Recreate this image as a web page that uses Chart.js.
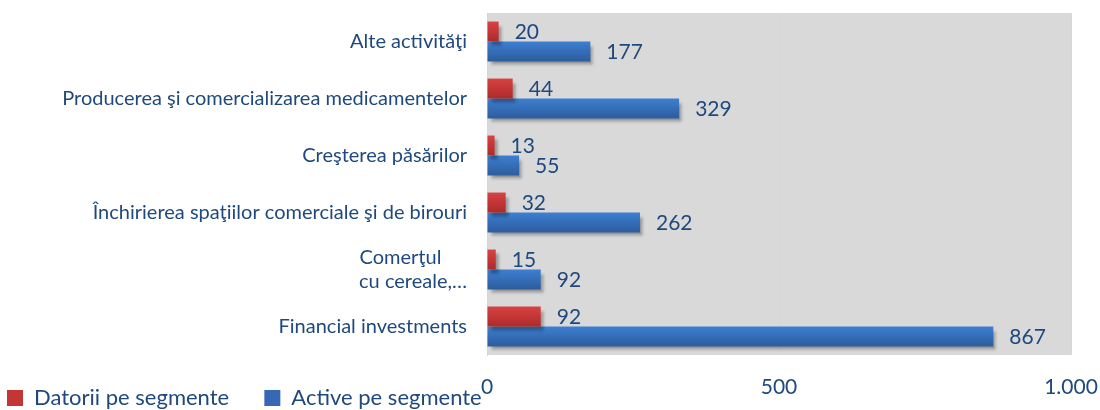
<!DOCTYPE html>
<html>
<head>
<meta charset="utf-8">
<script src="https://cdn.jsdelivr.net/npm/chart.js@4.4.1/dist/chart.umd.min.js"></script>
<style>
  html, body { margin: 0; padding: 0; background: #fff; }
  #wrap { width: 1100px; height: 410px; position: relative; }
</style>
</head>
<body>
<div id="wrap"><canvas id="segChart"></canvas></div>
<script>
// ---- data ----
const categories = [
  'Alte activităţi',
  'Producerea şi comercializarea medicamentelor',
  'Creşterea păsărilor',
  'Închirierea spaţiilor comerciale şi de birouri',
  ['Comerţul     ', 'cu cereale,…'],
  'Financial investments'
];
const datorii = [20, 44, 13, 32, 15, 92];
const active  = [177, 329, 55, 262, 92, 867];
const xTickStep = 500;
const xMax = 1000;

const TEXT = '#1f497d';
const FONT = 'Lato, "Open Sans", sans-serif';
const LEGEND_PAD = 7;

// vertical gradient per bar, like the Excel bevel look
function barFill(c, top, bottom, flat) {
  const chart = c.chart;
  if (c.type !== 'data' || !chart.chartArea || !chart.scales.y) return flat;
  const y = chart.scales.y;
  const center = y.getPixelForValue(c.dataIndex);
  const w = Math.abs(y.getPixelForValue(1) - y.getPixelForValue(0)) * 0.35;
  const start = c.datasetIndex === 0 ? center - w : center;
  const g = chart.ctx.createLinearGradient(0, start, 0, start + w);
  g.addColorStop(0, top);
  g.addColorStop(1, bottom);
  return g;
}

const plotBg = {
  id: 'plotBg',
  afterLayout(chart) {
    // legend sits on the same row as the x tick labels, as in the original
    const lg = chart.legend;
    const h = lg.height;
    lg.top = 380;
    lg.bottom = 380 + h;
  },
  beforeDraw(chart) {
    const { ctx, chartArea: a } = chart;
    ctx.save();
    ctx.fillStyle = '#d9d9d9';
    ctx.fillRect(a.left, a.top, a.right - a.left, a.bottom - a.top);
    ctx.restore();
  },
  beforeDatasetsDraw(chart) {
    const ctx = chart.ctx;
    ctx.save();
    ctx.shadowColor = 'rgba(0,0,0,0.3)';
    ctx.shadowBlur = 3;
    ctx.shadowOffsetX = 3;
    ctx.shadowOffsetY = 4;
  },
  afterDatasetsDraw(chart) {
    const ctx = chart.ctx;
    ctx.restore();
    // value labels
    ctx.save();
    ctx.fillStyle = TEXT;
    ctx.font = '21px ' + FONT;
    ctx.textAlign = 'left';
    ctx.textBaseline = 'middle';
    chart.data.datasets.forEach((ds, i) => {
      chart.getDatasetMeta(i).data.forEach((bar, j) => {
        ctx.fillText(ds.data[j], bar.x + 16, bar.y + 1);
      });
    });
    ctx.restore();
  }
};

new Chart(document.getElementById('segChart'), {
  type: 'bar',
  data: {
    labels: categories,
    datasets: [{
      label: 'Datorii pe segmente',
      data: datorii,
      backgroundColor: c => barFill(c, '#d84242', '#ae2a2a', '#c63535'),
      borderWidth: 0,
      barPercentage: 1,
      categoryPercentage: 0.7
    }, {
      label: 'Active pe segmente',
      data: active,
      backgroundColor: c => barFill(c, '#3d7fd2', '#2c5c9c', '#3569b4'),
      borderWidth: 0,
      barPercentage: 1,
      categoryPercentage: 0.7
    }]
  },
  options: {
    indexAxis: 'y',
    responsive: true,
    maintainAspectRatio: false,
    animation: false,
    // legend box is pushed off the bottom edge, then moved back up in afterLayout
    layout: { padding: { top: 13, right: 29, left: 0, bottom: -(22 + LEGEND_PAD + 10) } },
    plugins: {
      tooltip: { enabled: false },
      legend: {
        position: 'bottom',
        align: 'start',
        labels: {
          color: TEXT,
          font: { family: FONT, size: 22 },
          boxWidth: 16,
          boxHeight: 16,
          padding: LEGEND_PAD,
          generateLabels(chart) {
            const items = Chart.defaults.plugins.legend.labels.generateLabels(chart);
            items[0].text += '\u00a0\u00a0\u00a0\u00a0\u00a0';
            items[0].fillStyle = '#c63535';
            items[1].fillStyle = '#3569b4';
            return items;
          }
        }
      }
    },
    scales: {
      x: {
        min: 0,
        max: xMax,
        afterFit(scale) {
          scale.height = 55;
          scale.paddingLeft = 0;
          scale.paddingRight = 0;
        },
        grid: { color: '#c6d9f1', drawTicks: false },
        border: { display: false },
        ticks: {
          stepSize: xTickStep,
          color: TEXT,
          font: { family: FONT, size: 21 },
          padding: 20,
          maxRotation: 0,
          autoSkip: false,
          callback: v => v >= 1000 ? (v / 1000) + '.000' : v
        }
      },
      y: {
        afterFit(scale) {
          scale.width = 487;
          scale.paddingTop = 0;
          scale.paddingBottom = 0;
        },
        grid: { display: false, drawTicks: false },
        border: { display: true, color: '#c6d9f1' },
        ticks: {
          color: TEXT,
          font: { family: FONT, size: 20 },
          padding: 20
        }
      }
    }
  },
  plugins: [plotBg]
});
</script>
</body>
</html>
